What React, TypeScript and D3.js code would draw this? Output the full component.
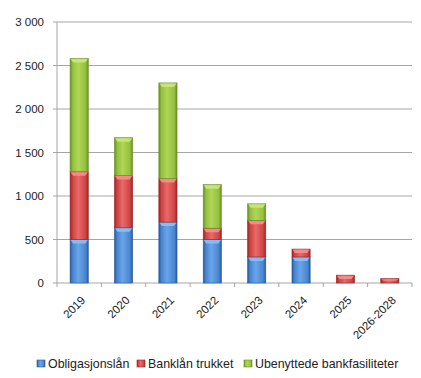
import React from "react";
import * as d3 from "d3";

const categories = ["2019", "2020", "2021", "2022", "2023", "2024", "2025", "2026-2028"];
const obligasjonslan = [500, 635, 700, 500, 300, 300, 0, 0];
const banklanTrukket = [780, 600, 500, 130, 420, 90, 90, 50];
const ubenyttede = [1300, 435, 1100, 500, 190, 0, 0, 0];
const seriesNames = ["Obligasjonslån", "Banklån trukket", "Ubenyttede bankfasiliteter"];
const yTicks = [0, 500, 1000, 1500, 2000, 2500, 3000];

const W = 421, H = 378;
const left = 57, right = 412, top = 22, bottom = 283;

const palettes = [
  { id: "gBlue", light: "#6aa5ea", mid: "#4a86d0", dark: "#2a5a9a", hi: "#8cc0f5" },
  { id: "gRed", light: "#e86a6a", mid: "#d04343", dark: "#9c2626", hi: "#f59090" },
  { id: "gGreen", light: "#b0d656", mid: "#94c040", dark: "#6a8e25", hi: "#c8e880" },
];

const fmt = (v: number) => {
  const s = String(v);
  return s.length > 3 ? s.slice(0, s.length - 3) + " " + s.slice(-3) : s;
};

export default function App() {
  const x = d3.scaleBand<string>().domain(categories).range([left, right]).paddingInner(0.59).paddingOuter(0.295);
  const y = d3.scaleLinear().domain([0, 3000]).range([bottom, top]);
  const data = categories.map((c, i) => ({ cat: c, s0: obligasjonslan[i], s1: banklanTrukket[i], s2: ubenyttede[i] }));
  const stack = d3.stack<any>().keys(["s0", "s1", "s2"])(data);
  const step = (right - left) / categories.length;
  const font = "'Liberation Sans', Arial, sans-serif";

  const legendItems = [
    { x: 37, name: seriesNames[0] },
    { x: 137, name: seriesNames[1] },
    { x: 244, name: seriesNames[2] },
  ];

  return (
    <svg width={W} height={H} style={{ position: "absolute", left: 0, top: 0 }} fontFamily={font}>
      <defs>
        {palettes.map((p) => (
          <linearGradient key={p.id} id={p.id} x1="0" x2="1" y1="0" y2="0">
            <stop offset="0" stopColor={p.dark} />
            <stop offset="0.15" stopColor={p.mid} />
            <stop offset="0.45" stopColor={p.light} />
            <stop offset="0.85" stopColor={p.mid} />
            <stop offset="1" stopColor={p.dark} />
          </linearGradient>
        ))}
      </defs>
      <rect width={W} height={H} fill="#fff" />
      {yTicks.map((t) => (
        <g key={t}>
          {t > 0 && <line x1={left} x2={right} y1={y(t)} y2={y(t)} stroke="#a6a6a6" strokeWidth={1} />}
          <line x1={left - 4} x2={left} y1={y(t)} y2={y(t)} stroke="#a6a6a6" />
          <text x={44} y={y(t)} dy="0.35em" textAnchor="end" fontSize={11.5} fill="#222">{fmt(t)}</text>
        </g>
      ))}
      <line x1={left} x2={left} y1={top} y2={bottom} stroke="#a6a6a6" />
      <line x1={left} x2={right} y1={bottom} y2={bottom} stroke="#a6a6a6" />
      {d3.range(categories.length + 1).map((i) => (
        <line key={i} x1={left + i * step} x2={left + i * step} y1={bottom} y2={bottom + 4} stroke="#a6a6a6" />
      ))}
      {stack.map((layer, si) =>
        layer.map((d, i) => {
          const v = d[1] - d[0];
          if (v <= 0) return null;
          const bx = x(categories[i])!;
          const bw = x.bandwidth();
          const y0 = y(d[0]);
          const y1 = y(d[1]);
          const p = palettes[si];
          const bev = Math.min(4, (y0 - y1) / 2);
          return (
            <g key={si + "-" + i}>
              <rect x={bx} y={y1} width={bw} height={y0 - y1} fill={`url(#${p.id})`} stroke={p.dark} strokeWidth={0.6} />
              <path d={`M${bx + 0.5},${y1 + 0.5} L${bx + bw - 0.5},${y1 + 0.5} L${bx + bw - 3},${y1 + bev} L${bx + 3},${y1 + bev} Z`} fill={p.hi} opacity={0.9} />
            </g>
          );
        })
      )}
      {categories.map((c) => {
        const cx = x(c)! + x.bandwidth() / 2;
        return (
          <text key={c} transform={`translate(${cx + 4},${bottom + 15}) rotate(-45)`} textAnchor="end" fontSize={11.5} fill="#222" dy="0.35em">{c}</text>
        );
      })}
      {legendItems.map((l, i) => (
        <g key={i}>
          <rect x={l.x} y={360} width={8} height={7} fill={`url(#${palettes[i].id})`} stroke={palettes[i].dark} strokeWidth={0.6} />
          <text x={l.x + 11} y={364} dy="0.35em" fontSize={12.4} fill="#222">{l.name}</text>
        </g>
      ))}
    </svg>
  );
}
